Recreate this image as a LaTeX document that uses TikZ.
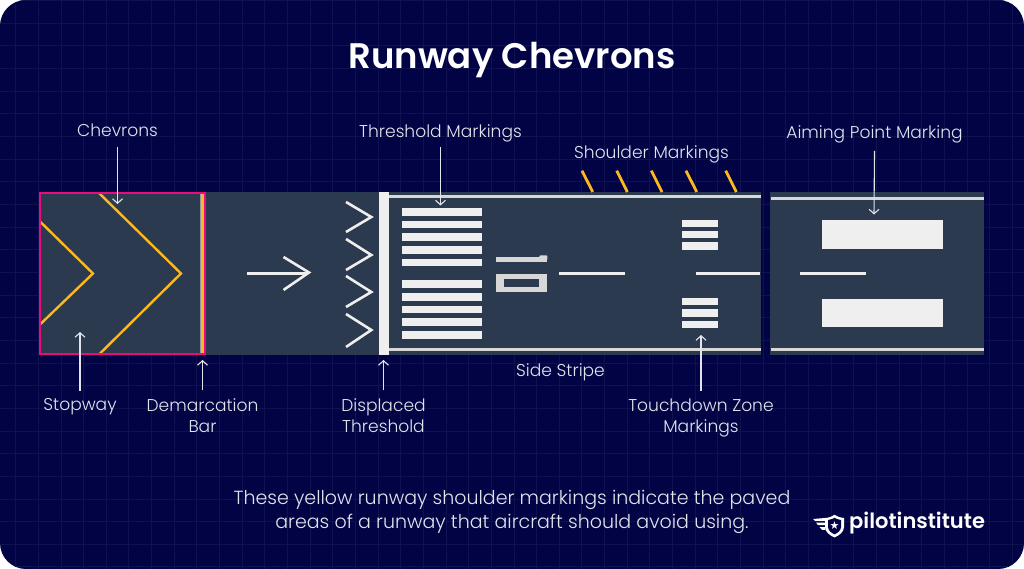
\documentclass[tikz,border=0pt]{standalone}
\usepackage{fontspec}
\setmainfont{Poppins}[UprightFont=*-Light,BoldFont=*-SemiBold]
\usetikzlibrary{arrows.meta}
\definecolor{bgc}{HTML}{020345}
\definecolor{gridc}{HTML}{10124F}
\definecolor{roadc}{HTML}{2B3A4E}
\definecolor{paint}{HTML}{EFEFEF}
\definecolor{stripec}{HTML}{D6D7D6}
\definecolor{txt}{HTML}{E2E4EC}
\definecolor{yel}{HTML}{FDB81E}
\definecolor{pinkc}{HTML}{EC0A80}
\tikzset{
  x=1pt,y=-1pt,
  lbl/.style={text=txt,font=\fontsize{17.1}{21}\selectfont,align=center,inner sep=0pt},
  callout/.style={draw=txt,line width=1.1pt,-{Straight Barb[length=4.5pt,width=10pt,line width=1.1pt]}},
  bar/.style={fill=paint},
  road/.style={fill=roadc},
  stripe/.style={draw=stripec,line width=3pt},
  centerline/.style={draw=paint,line width=2.6pt},
  yline/.style={draw=yel,line width=2.4pt,line join=miter},
  wline/.style={draw=paint,line width=2.6pt,line join=miter},
  tick/.style={draw=yel,line width=2.8pt},
}
\begin{document}
\begin{tikzpicture}
\useasboundingbox (0,0) rectangle (1024,569);
\fill[white] (0,0) rectangle (1024,569);
\begin{scope}
  \clip[rounded corners=26pt] (0,0) rectangle (1024,569);
  \fill[bgc] (0,0) rectangle (1024,569);
  \foreach \k in {0,...,44} \draw[gridc,line width=.8pt] ({15.6+22.65*\k},0) -- ({15.6+22.65*\k},569);
  \foreach \k in {0,...,25} \draw[gridc,line width=.8pt] (0,{0.6+22.65*\k}) -- (1024,{0.6+22.65*\k});
\end{scope}
% pavement
\fill[road] (39,192) rectangle (761,355);
\fill[road] (770.3,192) rectangle (983.7,355);
% shoulder ticks
\foreach \a/\b in {582/592.7,616.7/627.3,651.3/662,686/696.7,725.7/736.3}
  \draw[tick] (\a,170.7) -- (\b,192);
% stopway chevrons
\draw[yline] (99,193) -- (181,273.5) -- (99.5,354);
\draw[yline] (40.5,222) -- (93,273.5) -- (40.5,324);
\fill[stripec!60!roadc] (200,193) rectangle (201.2,354);
\fill[yel] (201.2,193) rectangle (203.8,354);
\draw[pinkc,line width=2.1pt] (40,192.8) rectangle (205,354.4);
% direction arrow
\draw[wline] (247,273.3) -- (307,273.3);
\draw[wline] (283.5,257) -- (309,272.5) -- (283.5,290);
% small chevrons
\foreach \t/\m/\b in {202/217/232,239/255/270,276/292/307,314/330/347}
  \draw[wline] (346,\t) -- (371.3,\m) -- (346,\b);
% displaced threshold bar and stripes
\fill[bar] (379.3,192) rectangle (389.3,355);
\draw[stripe] (389.3,196.7) -- (761,196.7);
\draw[stripe] (389.3,349.7) -- (761,349.7);
\draw[stripe] (770.8,199) -- (983.7,199);
\draw[stripe] (770.8,349.7) -- (983.7,349.7);
% threshold bars
\foreach \t/\b in {207.7/215.7,220.7/228.3,233.3/241,246/253.7,258.7/266.3,280.3/288,293/300.7,305.7/313.3,318.3/326,331/338.7}
  \fill[bar] (401.7,\t) rectangle (482.3,\b);
% runway designation
\fill[stripec] (495.7,257.3) rectangle (547.3,262);
\fill[stripec,rounded corners=1pt] (539.3,255.3) rectangle (547.3,260);
\fill[stripec] (495.7,274) rectangle (547.3,291.7);
\fill[road] (504.3,279) rectangle (539,287.3);
% centerline
\draw[centerline] (559.3,273.3) -- (625,273.3);
\draw[centerline] (695.7,273.3) -- (760,273.3);
\draw[centerline] (800.3,273.3) -- (866,273.3);
% touchdown zone
\foreach \t/\b in {219.7/227,231/238.3,242.3/249.7,298/305.3,309.3/316.7,320.7/328}
  \fill[bar] (682,\t) rectangle (717.7,\b);
% aiming point
\fill[bar] (822.3,220.3) rectangle (943.3,248.7);
\fill[bar] (822.3,298.7) rectangle (943.3,327);
% text
\node[text=white,inner sep=0pt,font=\fontsize{35.5}{40}\selectfont\bfseries] (title) at (512,60) {Runway Chevrons};
\node[lbl] (lchev) at (117.5,130) {Chevrons};
\node[lbl] (lthr) at (440.5,133) {Threshold Markings};
\node[lbl] (lsho) at (651.5,154) {Shoulder Markings};
\node[lbl] (laim) at (874.5,134) {Aiming Point Marking};
\node[lbl] (lstop) at (80,407) {Stopway};
\node[lbl] (ldem) at (202.5,415.5) {Demarcation\\Bar};
\node[lbl] (ldis) at (383.5,415.5) {Displaced\\Threshold};
\node[lbl] (lside) at (560.5,372) {Side Stripe};
\node[lbl] (ltou) at (701,418) {Touchdown Zone\\Markings};
\node[text=txt,align=center,inner sep=0pt,font=\fontsize{19}{24}\selectfont] (capt) at (512,511.5) {These yellow runway shoulder markings indicate the paved\\areas of a runway that aircraft should avoid using.};
% callouts
\coordinate (tchev) at (117.5,204);
\coordinate (tthr) at (440.5,205.5);
\coordinate (taim) at (874,214.5);
\coordinate (tstop) at (80,332);
\coordinate (tdem) at (202.5,360);
\coordinate (tdis) at (383.5,360);
\coordinate (ttou) at (701,335);
\draw[callout] ([yshift=-10pt]lchev.south) -- (tchev);
\draw[callout] ([yshift=-5pt]lthr.south) -- (tthr);
\draw[callout] ([yshift=-8pt]laim.south) -- (taim);
\draw[callout] ([yshift=8pt]lstop.north) -- (tstop);
\draw[callout] ([yshift=8pt]ldem.north) -- (tdem);
\draw[callout] ([yshift=8pt]ldis.north) -- (tdis);
\draw[callout] ([yshift=8pt]ltou.north) -- (ttou);
% logo
\begin{scope}
  \fill[white] (825,518) .. controls (830,517.5) and (832,516.5) .. (834.5,514.8) .. controls (837,516.5) and (840,517.5) .. (844,518) -- (844,527) .. controls (844,532) and (839,535.5) .. (834.5,537.5) .. controls (830,535.5) and (825,532) .. (825,527) -- cycle;
  \fill[bgc] (828,520) .. controls (831,519.5) and (833,518.8) .. (834.5,517.8) .. controls (836,518.8) and (838,519.5) .. (841,520) -- (841,527) .. controls (841,530.5) and (837.5,533) .. (834.5,534.3) .. controls (831.5,533) and (828,530.5) .. (828,527) -- cycle;
  \node[white,inner sep=0pt,font=\fontsize{11}{11}\selectfont] (lstar) at (834.5,526) {\fontspec{DejaVu Sans}★};
  \fill[white] (813,519) -- (825,518) -- (825,520.8) -- (815,520.8) -- cycle;
  \fill[white] (816,522.5) -- (825,522.5) -- (825,525.2) -- (818,525.2) -- cycle;
  \fill[white] (819.5,527) -- (825,527) -- (825.5,529.8) -- (822,529.8) -- cycle;
\end{scope}
\node[text=white,inner sep=0pt,anchor=west,font=\fontsize{21}{24}\selectfont\bfseries] (logo) at (849,523) {pilotinstitute};
\end{tikzpicture}
\end{document}
